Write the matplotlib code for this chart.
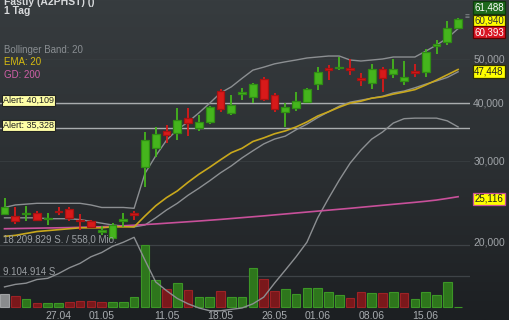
import numpy as np
import matplotlib
matplotlib.use("Agg")
import matplotlib.pyplot as plt
from matplotlib.colors import LinearSegmentedColormap
from matplotlib.transforms import blended_transform_factory

plt.rcParams['font.family'] = ['Liberation Sans', 'DejaVu Sans']

# daily candles 20.04 - 18.06
opens  = [23.0, 22.8, 23.0, 23.1, 22.5, 23.4, 23.6, 22.4, 22.2, 21.1, 20.4, 22.2, 23.1,
          29.1, 32.0, 34.9, 34.5, 37.2, 35.4, 36.5, 42.6, 38.2, 42.0, 41.3, 45.2, 41.8,
          38.4, 39.2, 40.3, 44.1, 47.8, 47.8, 47.8, 45.4, 44.3, 47.5, 46.4, 44.8, 47.1,
          46.8, 53.3, 54.3, 58.3]
highs  = [25.0, 23.9, 24.0, 23.4, 23.2, 23.9, 23.9, 23.0, 22.4, 21.7, 22.0, 23.1, 23.4,
          34.7, 35.5, 35.9, 39.2, 39.2, 37.8, 39.5, 43.0, 41.8, 43.3, 44.3, 45.7, 42.2,
          40.1, 42.4, 43.3, 48.0, 48.5, 50.5, 50.0, 46.6, 48.8, 48.0, 50.0, 49.5, 48.8,
          52.6, 55.0, 60.6, 61.488]
lows   = [22.9, 21.9, 22.2, 22.2, 21.8, 22.9, 22.2, 21.3, 21.5, 20.7, 20.3, 21.6, 22.4,
          26.4, 30.6, 32.8, 33.35, 34.0, 34.9, 36.1, 38.4, 37.8, 40.7, 40.2, 40.5, 38.4,
          35.6, 38.6, 40.2, 42.8, 45.0, 47.3, 46.2, 43.7, 43.1, 42.4, 45.4, 43.9, 45.6,
          45.8, 51.3, 53.6, 58.0]
closes = [23.8, 22.2, 23.2, 22.4, 22.6, 23.3, 22.6, 22.2, 21.6, 21.3, 21.8, 22.45, 22.9,
          33.35, 34.4, 34.2, 36.9, 36.3, 36.5, 39.3, 39.0, 39.7, 42.4, 44.1, 40.9, 39.0,
          39.4, 40.5, 43.0, 46.9, 47.3, 48.0, 47.3, 45.0, 47.5, 45.4, 47.5, 45.6, 46.7,
          51.8, 53.8, 58.3, 60.94]
volume_mio = [3.8, 3.2, 2.35, 1.3, 1.3, 1.3, 1.5, 1.8, 1.7, 1.4, 1.5, 1.5, 2.85,
              18.2, 7.9, 5.2, 7.0, 5.0, 2.9, 3.0, 4.8, 3.0, 2.9, 11.4, 8.1, 4.7,
              5.2, 3.8, 5.5, 5.5, 4.5, 3.5, 2.55, 4.5, 4.0, 4.0, 4.5, 4.2, 2.35,
              4.5, 3.4, 7.25, 0.0]

bb_upper = [23.8, 24.1, 24.2, 24.3, 24.3, 24.3, 24.3, 24.3, 24.1, 23.8, 23.8, 23.8, 23.7,
            28.2, 30.8, 33.3, 35.1, 36.5, 38.2, 40.1, 42.2, 43.5, 45.4, 47.3, 48.0, 48.8,
            49.3, 49.75, 50.25, 50.5, 50.75, 50.75, 49.75, 49.5, 49.75, 50.0, 50.5, 50.5,
            50.5, 52.0, 53.6, 55.5, 58.2]
bb_mid   = [22.6, 22.6, 22.6, 22.6, 22.5, 22.5, 22.5, 22.4, 22.2, 22.0, 21.8, 21.7, 21.6,
            21.8, 22.6, 23.5, 24.3, 25.3, 26.2, 27.2, 28.3, 29.3, 30.5, 31.6, 32.7, 33.5,
            34.0, 35.1, 36.1, 37.3, 38.4, 39.5, 40.3, 40.7, 41.1, 41.5, 42.2, 42.6, 43.3,
            44.1, 44.8, 45.6, 46.9]
bb_lower = [16.0, 16.2, 16.3, 16.6, 16.7, 17.1, 17.6, 18.0, 18.6, 19.0, 19.6, 20.0, 20.5,
            18.3, 16.4, 15.7, 15.1, 14.7, 14.4, 14.2, 14.2, 14.3, 14.4, 14.7, 15.2, 16.3,
            17.4, 18.6, 20.0, 22.6, 24.9, 27.3, 29.7, 31.7, 33.5, 34.7, 36.3, 37.1, 37.2,
            37.2, 37.2, 36.7, 35.6]
ema20    = [20.6, 20.7, 20.9, 21.1, 21.2, 21.3, 21.4, 21.5, 21.5, 21.5, 21.6, 21.6, 21.6,
            22.8, 24.0, 25.0, 25.85, 27.0, 28.1, 29.1, 30.2, 31.3, 32.0, 33.1, 33.7, 34.4,
            34.9, 35.6, 36.5, 37.6, 38.4, 39.3, 40.1, 40.5, 41.1, 41.4, 41.95, 42.4, 42.9,
            43.9, 45.0, 46.2, 47.448]
gd200    = [21.40, 21.42, 21.44, 21.46, 21.48, 21.50, 21.52, 21.55, 21.58, 21.61, 21.66,
            21.72, 21.78, 21.85, 21.92, 22.00, 22.08, 22.16, 22.24, 22.33, 22.42, 22.52,
            22.62, 22.72, 22.82, 22.93, 23.04, 23.15, 23.26, 23.37, 23.48, 23.59, 23.70,
            23.82, 23.94, 24.06, 24.18, 24.30, 24.42, 24.55, 24.70, 24.90, 25.116]

tick_pos = [5, 9, 15, 20, 25, 29, 34, 39]
tick_labels = ['27.04', '01.05', '11.05', '18.05', '26.05', '01.06', '08.06', '15.06']
price_grid = [20, 30, 40, 50]
price_grid_labels = ['20,000', '30,000', '40,000', '50,000']
alerts = [40.109, 35.328]
vol_max = 18209829
last_price, ask_price, bid_price = 60.940, 61.488, 60.393

W, H = 510, 320
fig = plt.figure(figsize=(W / 100, H / 100), dpi=100)

# background gradient
bg = fig.add_axes([0, 0, 1, 1])
bgmap = LinearSegmentedColormap.from_list('bg', ['#373c3f', '#2c3033', '#1c1f22'])
bg.imshow(np.linspace(0, 1, 256).reshape(-1, 1), aspect='auto', cmap=bgmap,
          extent=[0, 1, 0, 1])
bg.axis('off')

n = len(closes)
x = np.arange(n)
xlim = (-4.5 / 10.8, (470 - 4.5) / 10.8)
rect = [0, 0, 470 / W, 1]

# volume panel (overlay at bottom)
vax = fig.add_axes(rect)
vax.patch.set_alpha(0)
vpp = 9104914 / 31.0
vax.set_xlim(*xlim)
vax.set_ylim(-13 * vpp, 307 * vpp)
vcol, vedge = [], []
for i in range(n):
    if i == 0:
        vcol.append('#8a8c8e'); vedge.append('#a0a2a4')
    elif closes[i] >= closes[i - 1]:
        vcol.append('#2e761c'); vedge.append('#3c9626')
    else:
        vcol.append('#7a181b'); vedge.append('#9c2226')
vols = np.array(volume_mio) * 1e6
vols[13] = vol_max
vax.bar(x, vols, width=0.8, color=vcol, edgecolor=vedge, linewidth=0.8)
for v in [vol_max / 2, vol_max]:
    vax.axhline(v, color='#3e4347', lw=0.9, zorder=0)
vax.axis('off')

# price panel
ax = fig.add_axes(rect)
ax.patch.set_alpha(0)
ax.set_yscale('log')
ax.set_xlim(*xlim)
ax.set_ylim(50 * np.exp(-261 / 200), 50 * np.exp(59 / 200))
for p in price_grid[1:]:
    ax.axhline(p, color='#363b3e', lw=0.8, zorder=0)
for a in alerts:
    ax.axhline(a, color='#a9acae', lw=1.0, zorder=1)

ax.plot(x, bb_upper, color='#8c8f92', lw=1.0, zorder=2)
ax.plot(x, bb_mid, color='#8c8f92', lw=1.0, zorder=2)
ax.plot(x, bb_lower, color='#8c8f92', lw=1.0, zorder=2)
ax.plot(x, gd200, color='#c8509a', lw=1.2, zorder=2)
ax.plot(x, ema20, color='#c9a81c', lw=1.2, zorder=2)

o = np.array(opens); c = np.array(closes)
up = c >= o
face = np.where(up, '#45b51d', '#d81a1a')
edge = np.where(up, '#2f8c14', '#a81212')
ax.vlines(x, lows, highs, colors=face, lw=1.3, zorder=3)
ax.bar(x, np.abs(c - o), bottom=np.minimum(o, c), width=0.74,
       color=face, edgecolor=edge, linewidth=0.9, zorder=4)
ax.axis('off')

# x labels
tx = blended_transform_factory(ax.transData, ax.transAxes)
for p, lab in zip(tick_pos, tick_labels):
    ax.text(p, 4 / H, lab, transform=tx, ha='center', va='center',
            color='#a8acb0', fontsize=7.5)

# right scale labels
tr = blended_transform_factory(fig.transFigure, ax.transData)
rx = 489 / W
for p, lab in zip(price_grid, price_grid_labels):
    ax.text(rx, p, lab, transform=tr, ha='center', va='center',
            color='#a0a4a8', fontsize=7.5, clip_on=False)


def tag(price, text, fc, ec, tc, dy=0):
    ax.annotate(text, xy=(rx, price), xycoords=tr, xytext=(0, dy),
                textcoords='offset pixels', ha='center', va='center',
                color=tc, fontsize=7, annotation_clip=False,
                bbox=dict(boxstyle='square,pad=0.12', fc=fc, ec=ec, lw=0.9))


tag(ask_price, '61,488', '#1e6a1c', '#0e3a0c', '#ffffff', dy=10)
tag(last_price, '60,940', '#ffff00', '#303000', '#333333', dy=-1.5)
tag(bid_price, '60,393', '#d81522', '#600000', '#ffffff', dy=-11)
tag(ema20[-1], '47,448', '#ffff00', '#303000', '#222222', dy=-2)
tag(gd200[-1], '25,116', '#ffff00', '#c8509a', '#222222', dy=-2)
fig.text(467 / W, 1 - 18 / H, '\u2261', color='#8a8e92', fontsize=6,
         ha='center', va='center')

# alert tags
ta = blended_transform_factory(fig.transFigure, ax.transData)
for a in alerts:
    ax.annotate('Alert: ' + f'{a:.3f}'.replace('.', ','), xy=(3 / W, a),
                xycoords=ta, xytext=(0, 3), textcoords='offset pixels',
                ha='left', va='center', color='#222222', fontsize=6.5,
                annotation_clip=False,
                bbox=dict(boxstyle='square,pad=0.12', fc='#ffffa6', ec='#222222', lw=0.8))

# volume labels
fig.text(3 / W, 1 - 239 / H, '18.209.829 S. / 558,0 Mio.', color='#9a9ea2',
         fontsize=7, ha='left', va='center')
fig.text(3 / W, 1 - 272 / H, '9.104.914 S.', color='#9a9ea2',
         fontsize=7, ha='left', va='center')

# header texts
fig.text(4 / W, 1 - 2 / H, 'Fastly (A2PHST) ()', color='#d8dadc',
         fontsize=7.5, fontweight='bold', ha='left', va='center')
fig.text(4 / W, 1 - 11 / H, '1 Tag', color='#d8dadc',
         fontsize=7.5, fontweight='bold', ha='left', va='center')
fig.text(4 / W, 1 - 50 / H, 'Bollinger Band: 20', color='#8a8e92',
         fontsize=7, ha='left', va='center')
fig.text(4 / W, 1 - 62 / H, 'EMA: 20', color='#d8bc10',
         fontsize=7, ha='left', va='center')
fig.text(4 / W, 1 - 75 / H, 'GD: 200', color='#d060a8',
         fontsize=7, ha='left', va='center')

fig.savefig('out.png', dpi=100)
